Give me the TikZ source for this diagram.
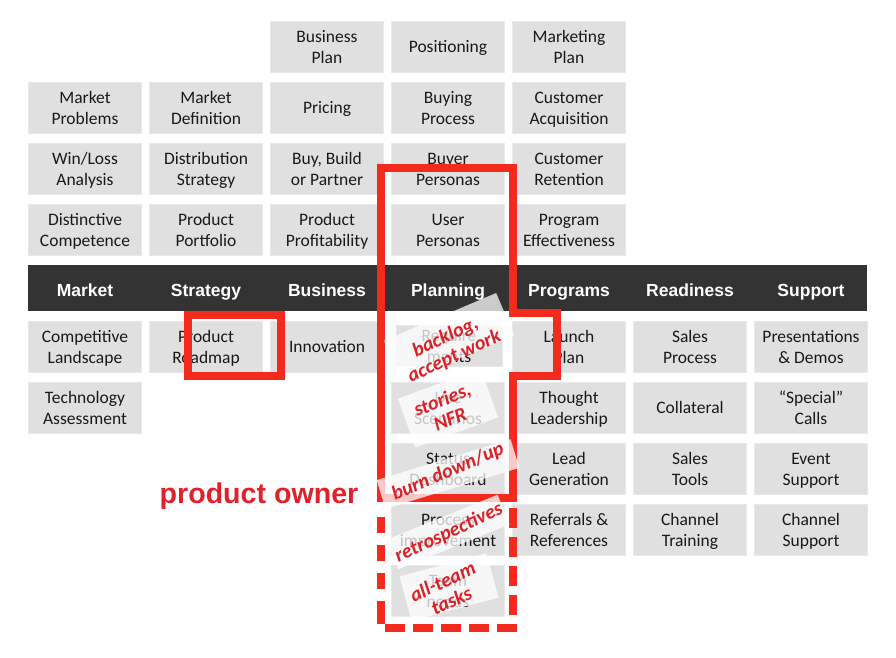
\documentclass[tikz,border=0pt]{standalone}
\usepackage{fontspec}
\setmainfont{Carlito}
\newfontfamily\barfont{Liberation Sans}
\usepackage{xcolor}
\definecolor{boxgray}{HTML}{E0E0E0}
\definecolor{bardark}{HTML}{333333}
\definecolor{framered}{HTML}{F42A1C}
\definecolor{ownerred}{HTML}{E3202A}
\definecolor{notered}{HTML}{DD1F26}
\tikzset{
  cell/.style={fill=boxgray, draw=boxgray!70!white, line width=0.8pt, minimum width=113pt, minimum height=51pt,
    inner sep=0pt, align=center, font=\fontsize{17.5}{20.5}\selectfont, text=black!90,
    text height=37pt, text depth=4.2pt},
  wordcell/.style={cell, text height=17pt, text depth=6pt},
  header/.style={text=white, font=\barfont\bfseries\fontsize{17.5}{20}\selectfont, inner sep=0pt,
    text height=18pt, text depth=4pt},
  sheet/.style={fill=white, fill opacity=0.75, inner sep=0pt},
  note/.style={text=notered, align=center, inner sep=0pt,
    font=\bfseries\itshape\fontsize{20}{21}\selectfont},
  frame/.style={draw=framered, line width=7.5pt, miter limit=10},
}
\begin{document}
\begin{tikzpicture}[x=1pt,y=-1pt]
    \useasboundingbox (0,0) rectangle (896,657);
    % top block
    \draw (327,47) node[cell] (bizplan) {Business\\Plan};
    \draw (448,47) node[wordcell] (positioning) {Positioning};
    \draw (569,47) node[cell] (mktplan) {Marketing\\Plan};
    \draw (85,108) node[cell] (problems) {Market\\Problems};
    \draw (206,108) node[cell] (definition) {Market\\Definition};
    \draw (327,108) node[wordcell] (pricing) {Pricing};
    \draw (448,108) node[cell] (buying) {Buying\\Process};
    \draw (569,108) node[cell] (acquisition) {Customer\\Acquisition};
    \draw (85,169) node[cell] (winloss) {Win/Loss\\Analysis};
    \draw (206,169) node[cell] (distribution) {Distribution\\Strategy};
    \draw (327,169) node[cell] (buybuild) {Buy, Build\\or Partner};
    \draw (448,169) node[cell] (buyer) {Buyer\\Personas};
    \draw (569,169) node[cell] (retention) {Customer\\Retention};
    \draw (85,230) node[cell] (competence) {Distinctive\\Competence};
    \draw (206,230) node[cell] (portfolio) {Product\\Portfolio};
    \draw (327,230) node[cell] (profit) {Product\\Profitability};
    \draw (448,230) node[cell] (user) {User\\Personas};
    \draw (569,230) node[cell] (effect) {Program\\Effectiveness};
    % dark bar
    \fill[bardark] (28,265) rectangle (867,311);
    \draw (85,289) node[header] (market) {Market};
    \draw (206,289) node[header] (strategy) {Strategy};
    \draw (327,289) node[header] (business) {Business};
    \draw (448,289) node[header] (planning) {Planning};
    \draw (569,289) node[header] (programs) {Programs};
    \draw (690,289) node[header] (readiness) {Readiness};
    \draw (811,289) node[header] (support) {Support};
    % lower block
    \draw (85,347) node[cell] (landscape) {Competitive\\Landscape};
    \draw (206,347) node[cell] (roadmap) {Product\\Roadmap};
    \draw (327,347) node[wordcell] (innovation) {Innovation};
    \fill[white] (385,313) rectangle (510,376);
    \draw (449,346) node[cell, minimum width=106pt, minimum height=41pt] (require) {Require\\ments};
    \draw (569,347) node[cell] (launch) {Launch\\Plan};
    \draw (690,347) node[cell] (salesproc) {Sales\\Process};
    \draw (811,347) node[cell] (demos) {Presentations\\\& Demos};
    \draw (85,408) node[cell] (assessment) {Technology\\Assessment};
    \draw (448,408) node[cell] (usescen) {Use\\Scenarios};
    \draw (569,408) node[cell] (thought) {Thought\\Leadership};
    \draw (690,408) node[wordcell] (collateral) {Collateral};
    \draw (811,408) node[cell] (special) {“Special”\\Calls};
    \draw (448,469) node[cell] (status) {Status\\Dashboard};
    \draw (569,469) node[cell] (leadgen) {Lead\\Generation};
    \draw (690,469) node[cell] (salestools) {Sales\\Tools};
    \draw (811,469) node[cell] (event) {Event\\Support};
    \draw (448,530) node[cell] (process) {Process\\improvement};
    \draw (569,530) node[cell] (referrals) {Referrals \&\\References};
    \draw (690,530) node[cell] (chtraining) {Channel\\Training};
    \draw (811,530) node[cell] (chsupport) {Channel\\Support};
    \draw (448,591) node[cell] (team) {Team\\needs};
    % red frames
    \draw[frame] (381,168) -- (513,168) -- (513,313) -- (557,313) -- (557,376) -- (513,376) -- (513,498) -- (381,498) -- cycle;
    \draw[frame] (188,315) -- (281,315) -- (281,376) -- (188,376) -- cycle;
    \draw[frame, dash pattern=on 16pt off 12pt] (381,517) -- (381,601);
    \draw[frame] (381,601) -- (381,624);
    \draw[frame, dash pattern=on 20pt off 8pt] (385,628) -- (517,628);
    \draw[frame, dash pattern=on 20pt off 9pt] (513,508) -- (513,632);
    \draw (259,496) node[text=ownerred, font=\barfont\bfseries\fontsize{28.6}{30}\selectfont, inner sep=0pt] (owner) {product owner};
    % sheets
    \draw (449,338) node[sheet, rotate=23, minimum width=122pt, minimum height=46pt] (backsheet) {};
    \draw (448,408) node[sheet, rotate=20, minimum width=88pt, minimum height=52pt] (storysheet) {};
    \draw (448,474) node[sheet, rotate=17, minimum width=140pt, minimum height=30pt] (burnsheet) {};
    \draw (448,532) node[sheet, rotate=22, minimum width=120pt, minimum height=32pt] (retrosheet) {};
    \draw (449,587) node[sheet, rotate=15, minimum width=90pt, minimum height=46pt] (teamsheet) {};
    % notes
    \draw (450,347) node[note, rotate=25] (backlog) {backlog,\\accept work};
    \draw (446,409) node[note, rotate=22] (stories) {stories,\\NFR};
    \draw (448,472) node[note, rotate=23] (burn) {burn down/up};
    \draw (449,533) node[note, rotate=25] (retro) {retrospectives};
    \draw (447,591) node[note, rotate=25] (allteam) {all-team\\tasks};
  \end{tikzpicture}
\end{document}
